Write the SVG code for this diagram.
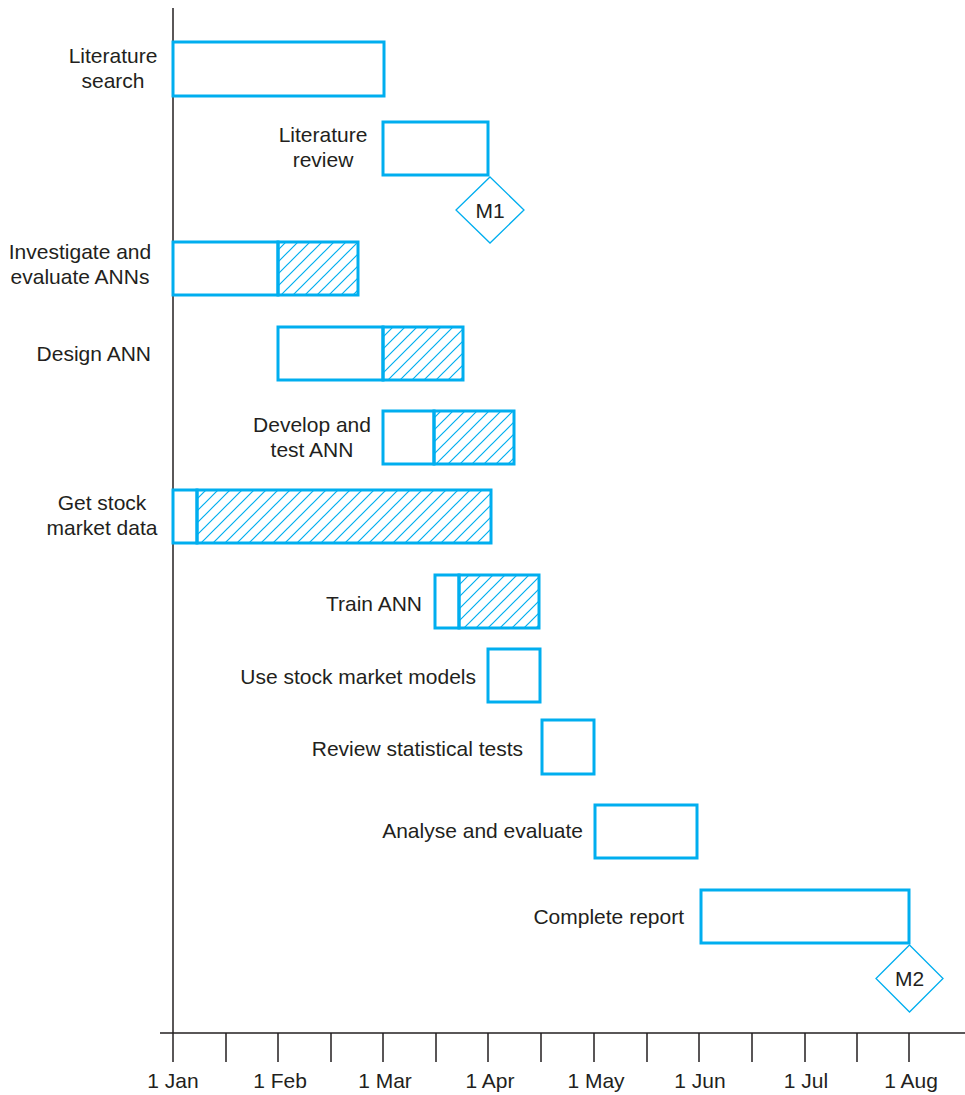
<svg xmlns="http://www.w3.org/2000/svg" width="965" height="1095" viewBox="0 0 965 1095">
<defs>
<pattern id="hatch" patternUnits="userSpaceOnUse" width="12" height="12">
<path d="M-3,3 L3,-3 M0,12 L12,0 M9,15 L15,9" stroke="#00AEEF" stroke-width="1.2"/>
</pattern>
</defs>
<style>
.bar{fill:#fff;stroke:#00AEEF;stroke-width:3}
.hb{fill:url(#hatch);stroke:#00AEEF;stroke-width:3}
.ms{fill:#fff;stroke:#00AEEF;stroke-width:1.3}
.ax{stroke:#231f20;stroke-width:1.5;fill:none}
text{font-family:"Liberation Sans",Arial,sans-serif;font-size:21px;fill:#231f20}
.c{text-anchor:middle}
.e{text-anchor:end}
</style>
<rect width="965" height="1095" fill="#fff"/>
<g id="axes">
<line class="ax" x1="173" y1="8" x2="173" y2="1062"/>
<line class="ax" x1="160" y1="1033" x2="965" y2="1033"/>
<path class="ax" d="M226,1033V1062M278,1033V1062M331,1033V1062M383,1033V1062M436,1033V1062M488,1033V1062M541,1033V1062M594,1033V1062M647,1033V1062M699,1033V1062M752,1033V1062M805,1033V1062M857,1033V1062M909,1033V1062"/>
<text class="c" x="173" y="1088">1 Jan</text>
<text class="c" x="280" y="1088">1 Feb</text>
<text class="c" x="385" y="1088">1 Mar</text>
<text class="c" x="490" y="1088">1 Apr</text>
<text class="c" x="596" y="1088">1 May</text>
<text class="c" x="700" y="1088">1 Jun</text>
<text class="c" x="806" y="1088">1 Jul</text>
<text class="c" x="911" y="1088">1 Aug</text>
</g>
<g id="literature-search">
<rect class="bar" x="173" y="42" width="211" height="54"/>
<text class="c" x="113" y="63">Literature</text>
<text class="c" x="113" y="88">search</text>
</g>
<g id="literature-review">
<rect class="bar" x="383" y="122" width="105" height="53"/>
<text class="c" x="323" y="142">Literature</text>
<text class="c" x="323" y="167">review</text>
</g>
<g id="m1">
<polygon class="ms" points="490,177 524,210 490,243 456,210"/>
<text class="c" x="490" y="218">M1</text>
</g>
<g id="investigate">
<rect class="bar" x="173" y="242" width="105" height="53"/>
<rect class="hb" x="278" y="242" width="80" height="53"/>
<text class="c" x="80" y="259">Investigate and</text>
<text class="c" x="80" y="284">evaluate ANNs</text>
</g>
<g id="design-ann">
<rect class="bar" x="278" y="327" width="105" height="53"/>
<rect class="hb" x="383" y="327" width="80" height="53"/>
<text class="e" x="151" y="361">Design ANN</text>
</g>
<g id="develop-test">
<rect class="bar" x="383" y="411" width="51" height="53"/>
<rect class="hb" x="434" y="411" width="80" height="53"/>
<text class="c" x="312" y="432">Develop and</text>
<text class="c" x="312" y="457">test ANN</text>
</g>
<g id="get-data">
<rect class="bar" x="173" y="490" width="24" height="53"/>
<rect class="hb" x="197" y="490" width="294" height="53"/>
<text class="c" x="102" y="510">Get stock</text>
<text class="c" x="102" y="535">market data</text>
</g>
<g id="train-ann">
<rect class="bar" x="435" y="575" width="24" height="53"/>
<rect class="hb" x="459" y="575" width="80" height="53"/>
<text class="e" x="422" y="611">Train ANN</text>
</g>
<g id="use-models">
<rect class="bar" x="488" y="649" width="52" height="53"/>
<text class="e" x="476" y="684">Use stock market models</text>
</g>
<g id="review-tests">
<rect class="bar" x="542" y="720" width="52" height="54"/>
<text class="e" x="523" y="756">Review statistical tests</text>
</g>
<g id="analyse">
<rect class="bar" x="595" y="805" width="102" height="53"/>
<text class="e" x="583" y="838">Analyse and evaluate</text>
</g>
<g id="complete-report">
<rect class="bar" x="701" y="890" width="208" height="53"/>
<text class="e" x="684" y="924">Complete report</text>
</g>
<g id="m2">
<polygon class="ms" points="909.5,945 943,978.5 909.5,1012 876,978.5"/>
<text class="c" x="909.5" y="986">M2</text>
</g>
</svg>
